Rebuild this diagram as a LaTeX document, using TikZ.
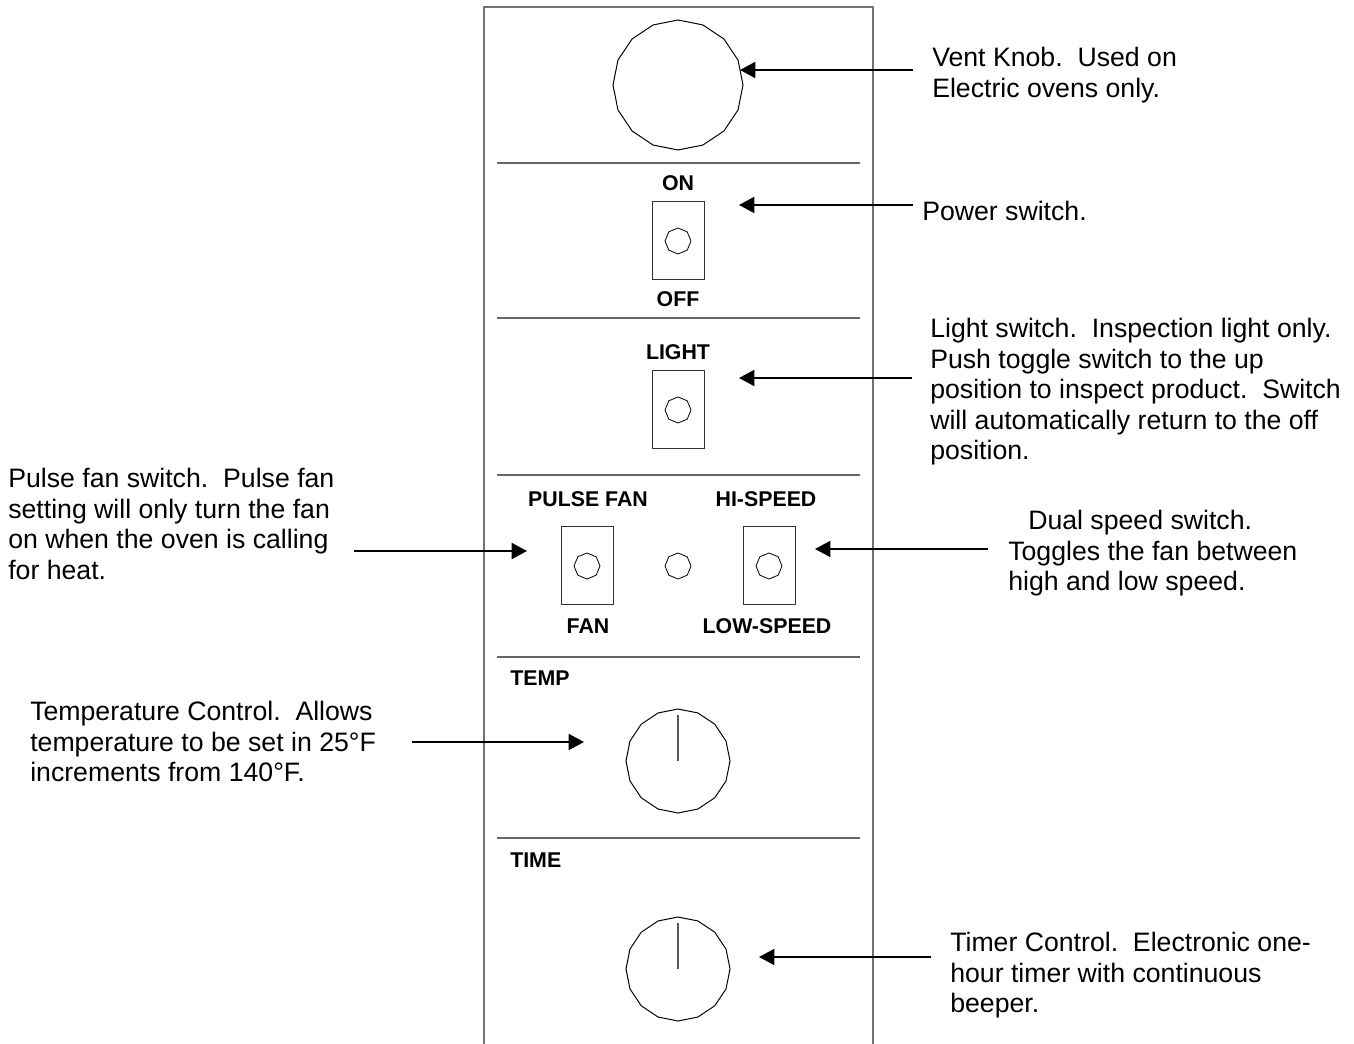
\documentclass[tikz,border=0pt]{standalone}
\usepackage{fontspec}
\setmainfont{Liberation Sans}
\usetikzlibrary{shapes.geometric,arrows.meta}
\begin{document}
\begin{tikzpicture}[x=0.75pt,y=-0.75pt,
  panel/.style={draw=black!55,line width=0.9pt},
  divider/.style={draw=black!60,line width=0.9pt},
  knob/.style={draw=black,line width=0.75pt,regular polygon,regular polygon sides=16,shape border rotate=11.25,inner sep=0pt},
  hexa/.style={draw=black,line width=0.6pt,regular polygon,regular polygon sides=8,shape border rotate=22.5,minimum size=19.5pt,inner sep=0pt},
  toggle/.style={draw=black!80,line width=0.75pt,rectangle,minimum width=39pt,minimum height=58.5pt,inner sep=0pt},
  pointer/.style={draw=black!65,line width=1pt},
  lbl/.style={font=\fontsize{16}{18}\selectfont\bfseries,inner sep=0pt},
  note/.style={font=\fontsize{20}{22.9}\selectfont,align=left,anchor=north west,inner sep=0pt},
  arr/.style={draw=black,line width=1.4pt,-{Triangle[length=11.5pt,width=12pt]}}]
\useasboundingbox (0,0) rectangle (1354,1044);
% panel
\draw[panel] (484,1044) -- (484,7) -- (873,7) -- (873,1044);
\foreach \yy in {163,318,475,657,838}
  \draw[divider] (497,\yy) -- (860,\yy);
% vent knob
\node[knob,minimum size=97.5pt] (vent) at (678,85) {};
% power switch
\node[lbl] (on) at (678,183) {ON};
\node[toggle] (pwr) at (678,241) {};
\node[hexa] (pwrk) at (678,241) {};
\node[lbl] (off) at (678,299) {OFF};
% light switch
\node[lbl] (light) at (678,352) {LIGHT};
\node[toggle] (lsw) at (678,410) {};
\node[hexa] (lswk) at (678,410) {};
% fan switches
\node[lbl] (pulse) at (588,499) {PULSE FAN};
\node[lbl] (hispd) at (766,499) {HI-SPEED};
\node[toggle] (psw) at (587,566) {};
\node[hexa] (pswk) at (587,566) {};
\node[hexa] (mid) at (678,566) {};
\node[toggle] (dsw) at (769,566) {};
\node[hexa] (dswk) at (769,566) {};
\node[lbl] (fan) at (588,626) {FAN};
\node[lbl] (lowspd) at (767,626) {LOW-SPEED};
% temp
\node[lbl,anchor=west] (temp) at (510,678) {TEMP};
\node[knob,minimum size=78pt] (tknob) at (678,761) {};
\draw[pointer] (tknob.center) -- (678,715);
% time
\node[lbl,anchor=west] (time) at (510,860) {TIME};
\node[knob,minimum size=78pt] (hknob) at (678,969) {};
\draw[pointer] (hknob.center) -- (678,923);
% notes
\node[note] (nvent) at (932,47) {Vent Knob.\ \ Used on\\Electric ovens only.};
\node[note] (npwr) at (922,201) {Power switch.};
\node[note] (nlight) at (930,318) {Light switch.\ \ Inspection light only.\\Push toggle switch to the up\\position to inspect product.\ \ Switch\\will automatically return to the off\\position.};
\node[note] (npulse) at (8,468) {Pulse fan switch.\ \ Pulse fan\\setting will only turn the fan\\on when the oven is calling\\for heat.};
\node[note] (ndual) at (1008,510) {\hspace*{15pt}Dual speed switch.\\Toggles the fan between\\high and low speed.};
\node[note] (ntemp) at (30,701) {Temperature Control.\ \ Allows\\temperature to be set in 25°F\\increments from 140°F.};
\node[note] (ntime) at (950,932) {Timer Control.\ \ Electronic one-\\hour timer with continuous\\beeper.};
% arrow end points
\coordinate (a1s) at (913,70);  \coordinate (a1t) at (740,70);
\coordinate (a2s) at (913,205); \coordinate (a2t) at (739,205);
\coordinate (a3s) at (912,378); \coordinate (a3t) at (739,378);
\coordinate (a4s) at (354,551); \coordinate (a4t) at (527,551);
\coordinate (a5s) at (988,549); \coordinate (a5t) at (815,549);
\coordinate (a6s) at (412,742); \coordinate (a6t) at (584,742);
\coordinate (a7s) at (931,957); \coordinate (a7t) at (759,957);
\foreach \i in {1,...,7} \draw[arr] (a\i s) -- (a\i t);
\end{tikzpicture}
\end{document}
